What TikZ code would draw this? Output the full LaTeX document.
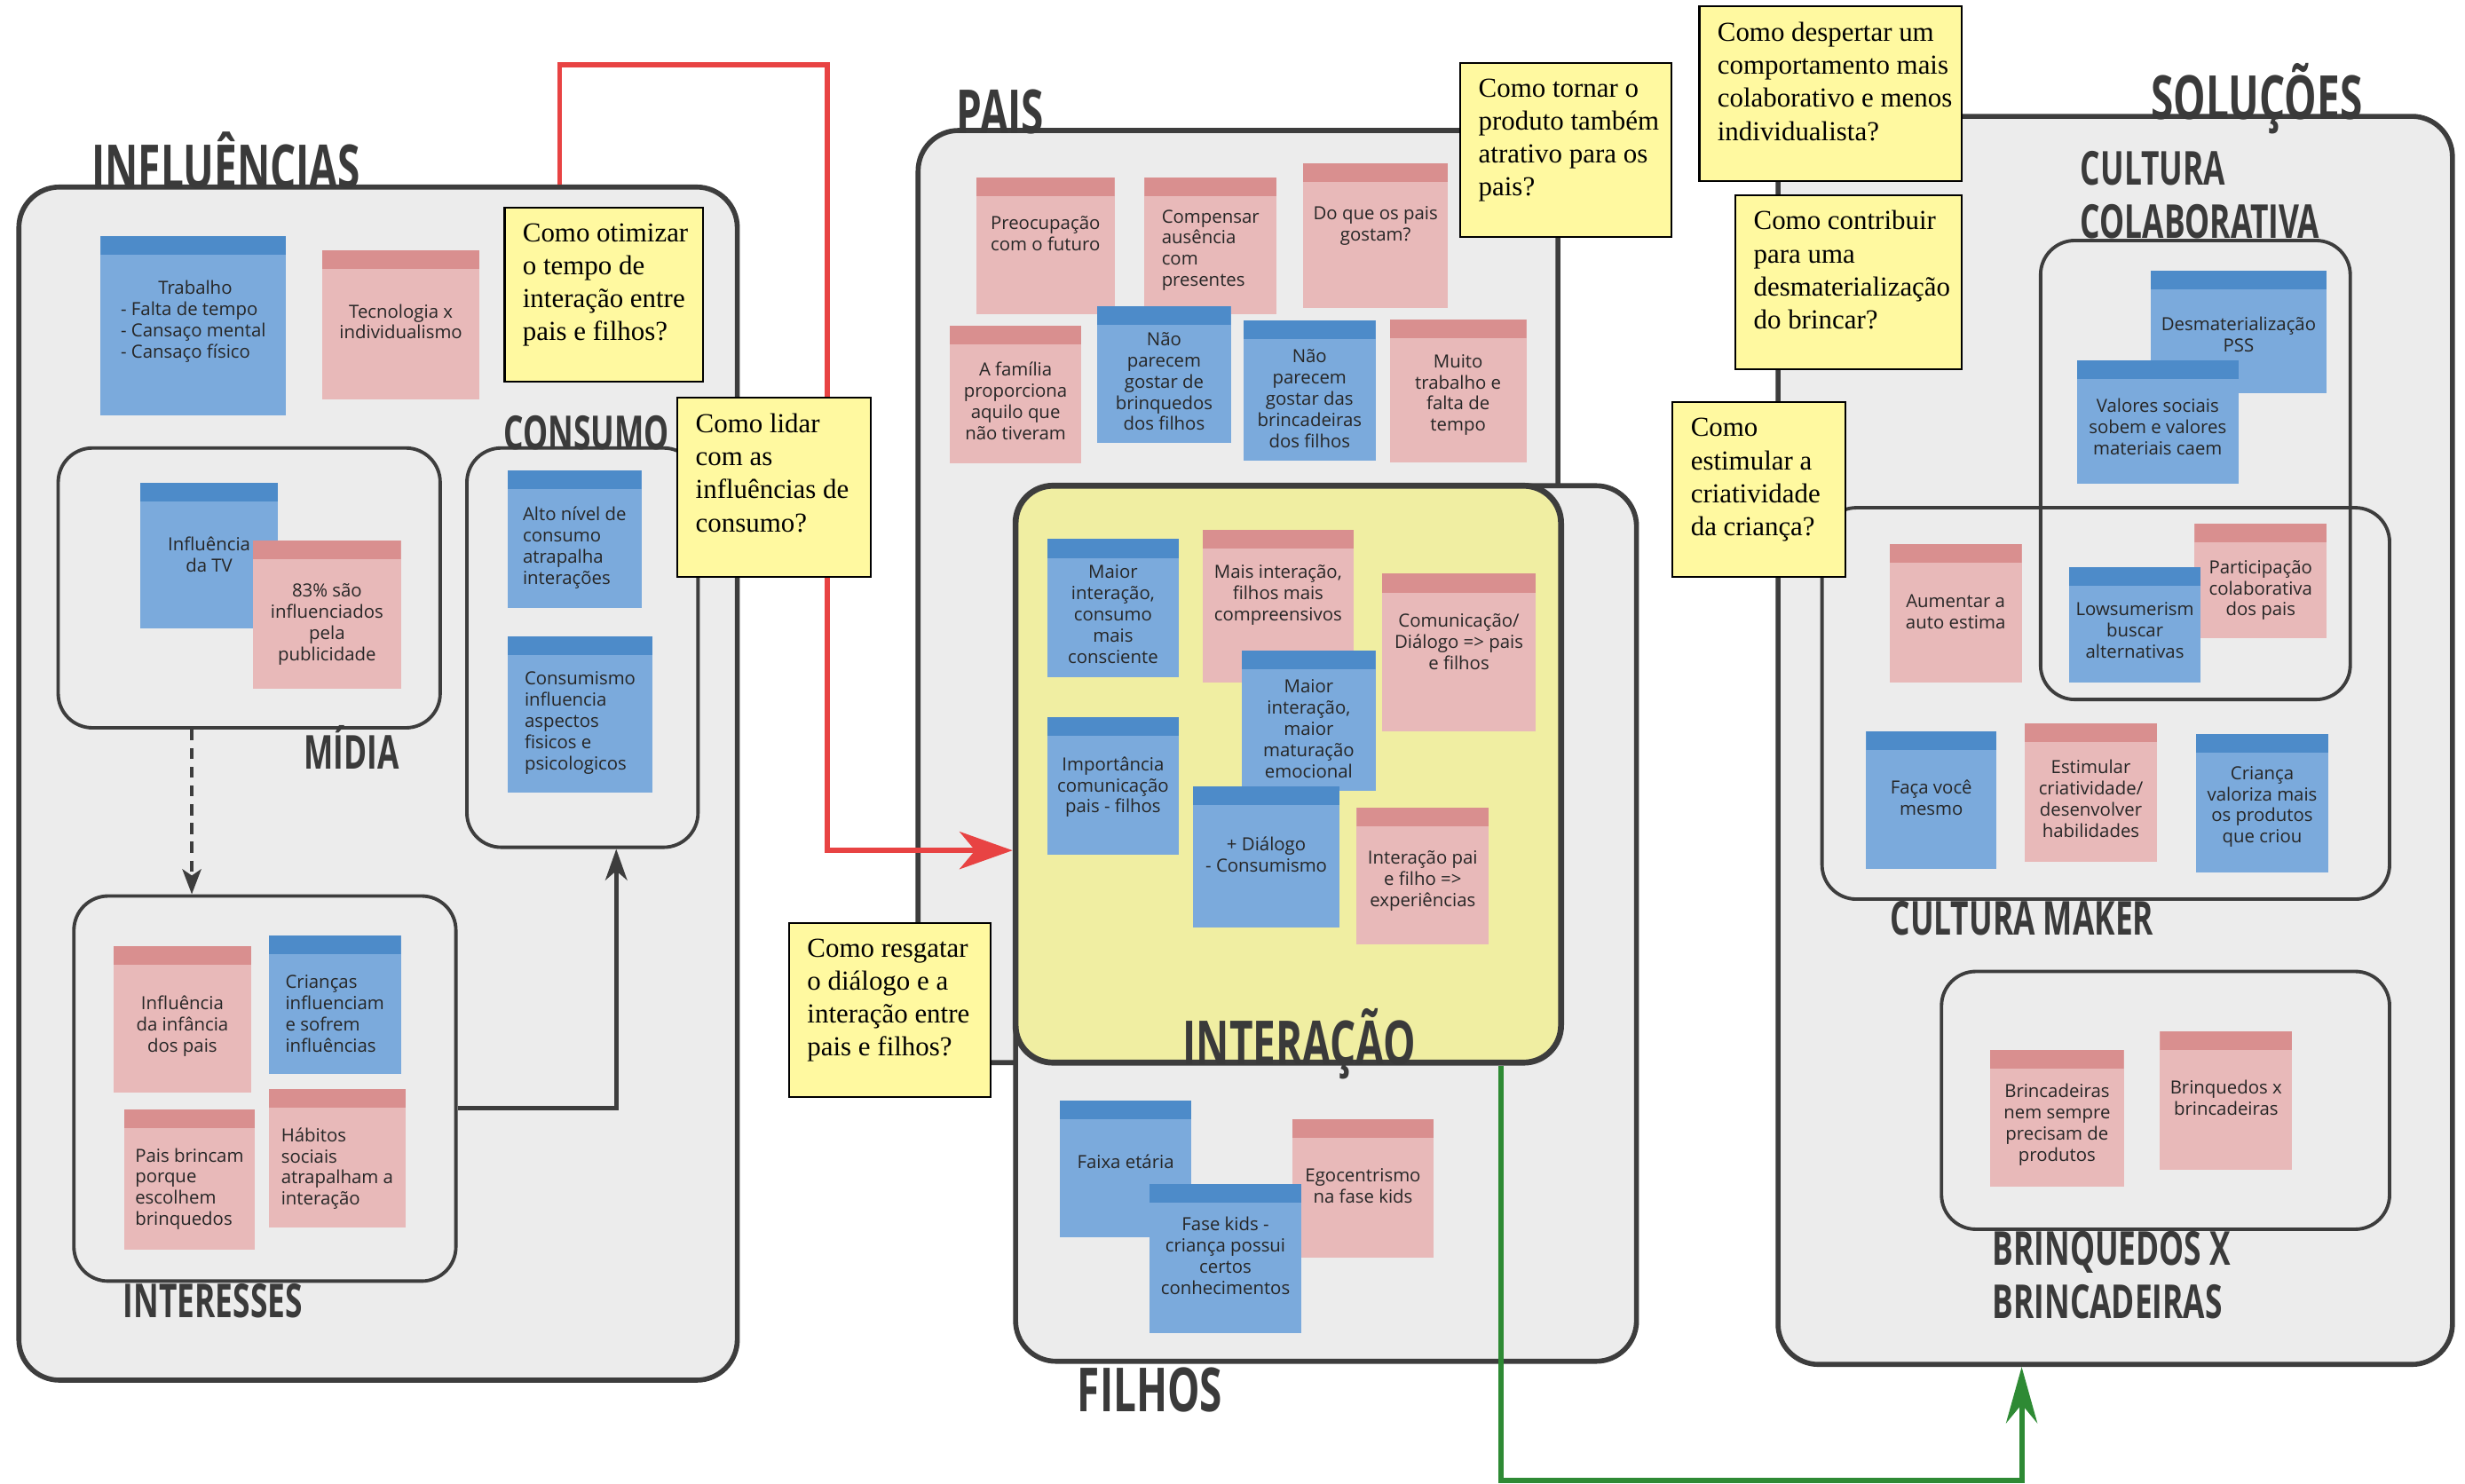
\documentclass[tikz,border=0pt]{standalone}
\usepackage{fontspec}
\usetikzlibrary{fit,arrows.meta}
\newfontfamily\headfont{Open Sans}[FakeStretch=0.67]
\newfontfamily\notefont{Open Sans}
\newfontfamily\qfont{Liberation Serif}
\definecolor{boxfill}{HTML}{ECECEC}
\definecolor{boxline}{HTML}{3D3D3D}
\definecolor{interfill}{HTML}{F0EEA2}
\definecolor{bluebody}{HTML}{7BAADC}
\definecolor{bluehead}{HTML}{4D8BC9}
\definecolor{pinkbody}{HTML}{E8B9B9}
\definecolor{pinkhead}{HTML}{D98F8F}
\definecolor{qfill}{HTML}{FFF9A0}
\definecolor{titlecol}{HTML}{3A3A3A}
\definecolor{notetextcol}{HTML}{262626}
\definecolor{linkred}{HTML}{E84343}
\definecolor{linkgreen}{HTML}{2E8A34}
\tikzset{
  bigbox/.style={draw=boxline, fill=boxfill, line width=1.6pt, rounded corners=13pt, inner sep=0pt},
  innerbox/.style={draw=boxline, line width=1.1pt, rounded corners=11pt, inner sep=0pt},
  interbox/.style={draw=boxline, fill=interfill, line width=1.9pt, rounded corners=12pt, inner sep=0pt},
  bluenote/.style={fill=bluebody, inner sep=0pt, path picture={\fill[bluehead] (path picture bounding box.north west) rectangle ([yshift=-6pt]path picture bounding box.north east);}},
  pinknote/.style={fill=pinkbody, inner sep=0pt, path picture={\fill[pinkhead] (path picture bounding box.north west) rectangle ([yshift=-6pt]path picture bounding box.north east);}},
  notetext/.style={font=\notefont\fontsize{5.8}{6.8}\selectfont, text=notetextcol, inner sep=0pt},
  questionbox/.style={draw=black, fill=qfill, line width=0.6pt, inner sep=0pt},
  questiontext/.style={font=\qfont\fontsize{8.8}{10.6}\selectfont, align=left, inner sep=0pt},
  bigtitle/.style={font=\headfont\bfseries\fontsize{19.5}{20}\selectfont, text=titlecol, inner sep=0pt},
  smalltitle/.style={font=\headfont\bfseries\fontsize{15}{17}\selectfont, text=titlecol, inner sep=0pt, align=left},
  redarrow/.style={draw=linkred, line width=1.7pt, -{Stealth[length=17pt,width=12pt,inset=5pt]}},
  greenarrow/.style={draw=linkgreen, line width=1.7pt, -{Stealth[length=18pt,width=10pt,inset=6pt]}},
  darkarrow/.style={draw=boxline, line width=1.3pt, -{Stealth[length=10pt,width=7pt,inset=3pt]}},
  dasharrow/.style={draw=boxline, line width=1.3pt, dash pattern=on 3.5pt off 2.5pt, -{Stealth[length=8pt,width=6pt,inset=2pt]}}
}
% sticky note: [align]{name}{style}{top left}{bottom right}{text top}{text}
\newcommand{\sticky}[7][center]{%
  \node[#3, fit={(#4) (#5)}] (#2) {};
  \node[notetext, align=#1, anchor=north] (#2-t) at (#2.north |- 0,#6) {#7};
}
% question note: {name}{top left}{bottom right}{text}
\newcommand{\question}[4]{%
  \node[questionbox, fit={(#2) (#3)}] (#1) {};
  \node[questiontext, anchor=north west] (#1-t) at ([xshift=5.9pt,yshift=-5.2pt]#1.north west) {#4};
}
\begin{document}
\begin{tikzpicture}[x=0.01771cm,y=-0.01771cm]
\useasboundingbox (0,0) rectangle (1568,944);
\fill[white] (0,0) rectangle (1568,944);

% grandes blocos
\node[bigbox, fit={(12,119) (469,878)}] (infl) {};
\node[bigbox, fit={(584,83) (991,676)}] (pais) {};
\node[bigbox, fit={(646,309) (1041,866)}] (filhos) {};
\node[interbox, fit={(646,309) (993,676)}] (inter) {};
\node[bigbox, fit={(1131,74) (1560,868)}] (sol) {};

% blocos internos
\node[innerbox, fit={(37,285) (280,463)}] (midia) {};
\node[innerbox, fit={(297,285) (444,539)}] (consumo) {};
\node[innerbox, fit={(47,570) (290,815)}] (inte) {};
\node[innerbox, fit={(1298,153) (1495,445)}] (colab) {};
\node[innerbox, fit={(1159,323) (1520,572)}] (maker) {};
\node[innerbox, fit={(1235,618) (1520,782)}] (brinq) {};

% titulos
\node[bigtitle, anchor=base west] (infl-title) at (58,120) {INFLUÊNCIAS};
\node[bigtitle, anchor=base west] (pais-title) at (608,85) {PAIS};
\node[bigtitle, anchor=base west] (sol-title) at (1368,76) {SOLUÇÕES};
\node[bigtitle, anchor=base west] (inter-title) at (752,677) {INTERAÇÃO};
\node[bigtitle, anchor=base west] (filhos-title) at (685,898) {FILHOS};
\node[smalltitle, anchor=base west] (consumo-title) at (320,286) {CONSUMO};
\node[smalltitle, anchor=base west] (midia-title) at (193,489) {MÍDIA};
\node[smalltitle, anchor=base west] (inte-title) at (78,838) {INTERESSES};
\node[smalltitle, anchor=base west] (maker-title) at (1202,595) {CULTURA MAKER};
\node[smalltitle, anchor=north west] (colab-title) at (1323,96) {CULTURA\\COLABORATIVA};
\node[smalltitle, anchor=north west] (brinq-title) at (1267,783) {BRINQUEDOS X\\BRINCADEIRAS};

% influencias
\sticky[left]{trab}{bluenote}{64,150}{182,264}{178}{\hspace*{12pt}Trabalho\\- Falta de tempo\\- Cansaço mental\\- Cansaço físico}
\sticky{tecno}{pinknote}{205,159}{305,254}{193}{Tecnologia x\\individualismo}
\sticky{tv}{bluenote}{89,307}{177,400}{341}{Influência\\da TV}
\sticky{publi}{pinknote}{161,344}{255,438}{371}{83\% são\\influenciados\\pela\\publicidade}
\sticky[left]{alto}{bluenote}{323,299}{408,387}{322}{Alto nível de\\consumo\\atrapalha\\interações}
\sticky[left]{consum}{bluenote}{323,405}{415,504}{427}{Consumismo\\influencia\\aspectos\\fisicos e\\psicologicos}
\sticky{infancia}{pinknote}{72,602}{160,695}{633}{Influência\\da infância\\dos pais}
\sticky[left]{criancas}{bluenote}{171,595}{255,683}{620}{Crianças\\influenciam\\e sofrem\\influências}
\sticky[left]{brincam}{pinknote}{79,706}{162,795}{730}{Pais brincam\\porque\\escolhem\\brinquedos}
\sticky[left]{habitos}{pinknote}{171,693}{258,781}{717}{Hábitos\\sociais\\atrapalham a\\interação}

% pais
\sticky{preoc}{pinknote}{621,113}{709,200}{137}{Preocupação\\com o futuro}
\sticky[left]{compensar}{pinknote}{728,113}{812,200}{133}{Compensar\\ausência\\com\\presentes}
\sticky{gostam}{pinknote}{829,104}{921,196}{131}{Do que os pais\\gostam?}
\sticky{familia}{pinknote}{604,207}{688,295}{230}{A família\\proporciona\\aquilo que\\não tiveram}
\sticky{naobrinq}{bluenote}{698,195}{783,282}{211}{Não\\parecem\\gostar de\\brinquedos\\dos filhos}
\sticky{naobrinc}{bluenote}{791,204}{875,293}{222}{Não\\parecem\\gostar das\\brincadeiras\\dos filhos}
\sticky{muito}{pinknote}{884,203}{971,294}{225}{Muito\\trabalho e\\falta de\\tempo}

% interacao
\sticky{consciente}{bluenote}{666,343}{750,431}{359}{Maior\\interação,\\consumo\\mais\\consciente}
\sticky{compreens}{pinknote}{765,337}{861,434}{359}{Mais interação,\\filhos mais\\compreensivos}
\sticky{comunic}{pinknote}{879,365}{977,465}{390}{Comunicação/\\Diálogo => pais\\e filhos}
\sticky{maturacao}{bluenote}{790,414}{875,503}{432}{Maior\\interação,\\maior\\maturação\\emocional}
\sticky{importancia}{bluenote}{666,456}{750,544}{481}{Importância\\comunicação\\pais - filhos}
\sticky{dialogo}{bluenote}{759,500}{852,590}{532}{+ Diálogo\\- Consumismo}
\sticky{experiencia}{pinknote}{863,514}{947,601}{541}{Interação pai\\e filho =>\\experiências}

% filhos
\sticky{faixa}{bluenote}{674,700}{758,787}{734}{Faixa etária}
\sticky{ego}{pinknote}{822,712}{912,800}{743}{Egocentrismo\\na fase kids}
\sticky{fasekids}{bluenote}{731,753}{828,848}{774}{Fase kids -\\criança possui\\certos\\conhecimentos}

% solucoes
\sticky{pss}{bluenote}{1368,172}{1480,250}{201}{Desmaterialização\\PSS}
\sticky{valores}{bluenote}{1321,229}{1424,308}{253}{Valores sociais\\sobem e valores\\materiais caem}
\sticky{estima}{pinknote}{1202,346}{1286,434}{378}{Aumentar a\\auto estima}
\sticky{particip}{pinknote}{1396,333}{1480,406}{356}{Participação\\colaborativa\\dos pais}
\sticky{lowsum}{bluenote}{1316,361}{1400,434}{383}{Lowsumerism\\buscar\\alternativas}
\sticky{facavoce}{bluenote}{1187,465}{1270,553}{496}{Faça você\\mesmo}
\sticky{estimular}{pinknote}{1288,460}{1372,548}{483}{Estimular\\criatividade/\\desenvolver\\habilidades}
\sticky{valoriza}{bluenote}{1397,467}{1481,555}{487}{Criança\\valoriza mais\\os produtos\\que criou}
\sticky{nemsempre}{pinknote}{1266,668}{1351,755}{689}{Brincadeiras\\nem sempre\\precisam de\\produtos}
\sticky{xbrinc}{pinknote}{1374,656}{1458,744}{687}{Brinquedos x\\brincadeiras}

% ligacoes
\coordinate (dashx) at (122,500);
\draw[dasharrow] (midia.south -| dashx) -- (inte.north -| dashx);
\coordinate (backup) at (392,705);
\draw[darkarrow] (inte.east |- backup) -| (consumo.south -| backup);
\coordinate (redup) at (356,41);
\coordinate (reddown) at (526,541);
\draw[redarrow] (infl.north -| redup) -- (redup) -| (reddown) -- (inter.west |- reddown);
\coordinate (greendown) at (955,942);
\coordinate (greenup) at (1286,942);
\draw[greenarrow] (inter.south -| greendown) -- (greendown) -- (greenup) -- (sol.south -| greenup);

% perguntas
\question{qtempo}{321,132}{447,243}{Como otimizar\\o tempo de\\interação entre\\pais e filhos?}
\question{qlidar}{431,253}{554,367}{Como lidar\\com as\\influências de\\consumo?}
\question{qtornar}{929,40}{1063,151}{Como tornar o\\produto também\\atrativo para os\\pais?}
\question{qresgatar}{502,587}{630,698}{Como resgatar\\o diálogo e a\\interação entre\\pais e filhos?}
\question{qdespertar}{1081,4}{1248,115}{Como despertar um\\comportamento mais\\colaborativo e menos\\individualista?}
\question{qcontribuir}{1104,124}{1248,235}{Como contribuir\\para uma\\desmaterialização\\do brincar?}
\question{qestimular}{1064,256}{1174,367}{Como\\estimular a\\criatividade\\da criança?}
\end{tikzpicture}
\end{document}
